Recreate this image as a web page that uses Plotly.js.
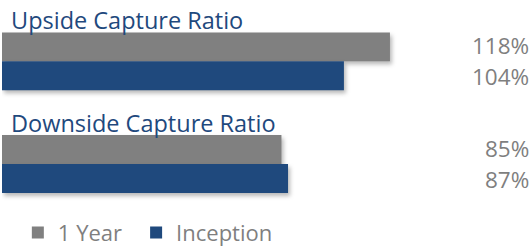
<!DOCTYPE html>
<html>
<head>
<meta charset="utf-8">
<script src="https://cdn.plot.ly/plotly-3.0.1.min.js"></script>
<style>
  html, body { margin: 0; padding: 0; background: #fff; }
  #chart { width: 532px; height: 247px; }
  .barlayer path { filter: drop-shadow(2px 3px 2px rgba(0,0,0,0.28)); }
</style>
</head>
<body>
<div id="chart"></div>
<script>
// ---- data ----
const categories = ["Upside Capture Ratio", "Downside Capture Ratio"];
const seriesNames = ["1 Year", "Inception"];
const oneYear = [118, 85];
const inception = [104, 87];

const FONT = "Open Sans, Noto Sans, sans-serif";
const GRAY = "#808080";
const BLUE = "#1F497D";
const LABEL = "#7F7F7F";

const traces = [
  { type: "bar", orientation: "h", name: seriesNames[0], y: categories, x: oneYear,
    marker: { color: GRAY }, hoverinfo: "none", legend: "legend" },
  { type: "bar", orientation: "h", name: seriesNames[1], y: categories, x: inception,
    marker: { color: BLUE }, hoverinfo: "none", legend: "legend2" }
];

const annotations = [];
categories.forEach((c, i) => {
  annotations.push({
    xref: "paper", x: 0, xanchor: "left", xshift: 7,
    yref: "y", y: c, yanchor: "middle", yshift: 41,
    text: c, showarrow: false,
    font: { family: FONT, size: 23.5, color: BLUE }
  });
  annotations.push({
    xref: "paper", x: 1, xanchor: "right", xshift: 1,
    yref: "y", y: c, yanchor: "middle", yshift: 16,
    text: oneYear[i] + "%", showarrow: false,
    font: { family: FONT, size: 22.5, color: LABEL }
  });
  annotations.push({
    xref: "paper", x: 1, xanchor: "right", xshift: 1,
    yref: "y", y: c, yanchor: "middle", yshift: -15,
    text: inception[i] + "%", showarrow: false,
    font: { family: FONT, size: 22.5, color: LABEL }
  });
});

const legendStyle = {
  orientation: "h", xanchor: "left",
  yref: "container", y: 0.058, yanchor: "middle",
  font: { family: FONT, size: 22, color: LABEL },
  itemwidth: 30, bgcolor: "rgba(0,0,0,0)"
};

const layout = {
  width: 532, height: 247,
  margin: { l: 2, r: 2, t: 10, b: 24, pad: 0, autoexpand: false },
  paper_bgcolor: "#fff", plot_bgcolor: "#fff",
  barmode: "group", bargap: 0.437, bargroupgap: 0,
  xaxis: { range: [0, 160.6], visible: false, fixedrange: true },
  yaxis: { autorange: "reversed", visible: false, fixedrange: true },
  showlegend: true,
  legend: Object.assign({}, legendStyle, { x: 0.03 }),
  legend2: Object.assign({}, legendStyle, { x: 0.254 }),
  annotations: annotations
};

Plotly.newPlot("chart", traces, layout, { displayModeBar: false, staticPlot: true });
</script>
</body>
</html>
